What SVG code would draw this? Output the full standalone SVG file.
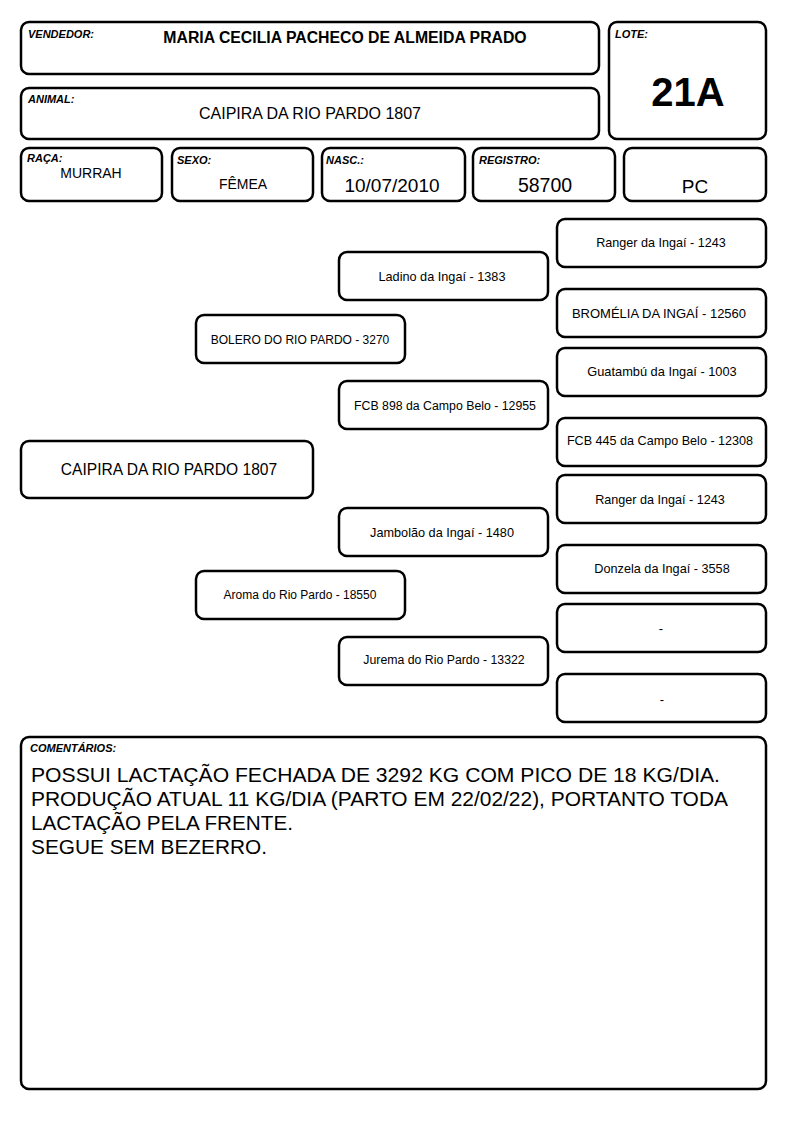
<svg xmlns="http://www.w3.org/2000/svg" width="794" height="1123" viewBox="0 0 794 1123">
<style>
.b{fill:#fff;stroke:#000;stroke-width:2.5}
.lb{font-family:"Liberation Sans",Arial,sans-serif;font-size:11px;font-weight:bold;font-style:italic;fill:#000}
.t{font-family:"Liberation Sans",Arial,sans-serif;fill:#000;text-anchor:middle}
</style>
<rect width="794" height="1123" fill="#fff"/>
<g id="vendedor"><rect class="b" x="21" y="22" width="578" height="52" rx="8"/><text class="lb" x="28" y="38">VENDEDOR:</text><text class="t" x="345" y="43" font-size="15.8" font-weight="bold">MARIA CECILIA PACHECO DE ALMEIDA PRADO</text></g>
<g id="lote"><rect class="b" x="609" y="22" width="157" height="117" rx="8"/><text class="lb" x="615" y="38">LOTE:</text><text class="t" x="688" y="106" font-size="40" font-weight="bold">21A</text></g>
<g id="animal"><rect class="b" x="21" y="88" width="578" height="51" rx="8"/><text class="lb" x="28" y="103">ANIMAL:</text><text class="t" x="310" y="119" font-size="16">CAIPIRA DA RIO PARDO 1807</text></g>
<g id="raca"><rect class="b" x="21" y="148" width="141" height="53" rx="8"/><text class="lb" x="27" y="162">RAÇA:</text><text class="t" x="91" y="178" font-size="14">MURRAH</text></g>
<g id="sexo"><rect class="b" x="172" y="148" width="141" height="53" rx="8"/><text class="lb" x="177" y="164">SEXO:</text><text class="t" x="243" y="189" font-size="14">FÊMEA</text></g>
<g id="nasc"><rect class="b" x="322" y="148" width="143" height="53" rx="8"/><text class="lb" x="326" y="164">NASC.:</text><text class="t" x="392" y="192" font-size="19">10/07/2010</text></g>
<g id="registro"><rect class="b" x="473" y="148" width="142" height="53" rx="8"/><text class="lb" x="479" y="164">REGISTRO:</text><text class="t" x="545" y="192" font-size="19.5">58700</text></g>
<g id="pc"><rect class="b" x="624" y="148" width="142" height="53" rx="8"/><text class="t" x="695" y="193" font-size="19">PC</text></g>
<g id="connectors"></g>
<g id="ranger1"><rect class="b" x="557" y="219" width="209" height="48" rx="8"/><text class="t" x="661" y="247" font-size="12.6">Ranger da Ingaí - 1243</text></g>
<g id="ladino"><rect class="b" x="339" y="252" width="209" height="48" rx="8"/><text class="t" x="442" y="281" font-size="12.7">Ladino da Ingaí - 1383</text></g>
<g id="bromelia"><rect class="b" x="557" y="289" width="209" height="48" rx="8"/><text class="t" x="659" y="318" font-size="13">BROMÉLIA DA INGAÍ - 12560</text></g>
<g id="bolero"><rect class="b" x="196" y="315" width="209" height="48" rx="8"/><text class="t" x="300" y="344" font-size="12">BOLERO DO RIO PARDO - 3270</text></g>
<g id="guatambu"><rect class="b" x="557" y="348" width="209" height="48" rx="8"/><text class="t" x="662" y="376" font-size="12.8">Guatambú da Ingaí - 1003</text></g>
<g id="fcb898"><rect class="b" x="339" y="381" width="209" height="48" rx="8"/><text class="t" x="445" y="410" font-size="12.3">FCB 898 da Campo Belo - 12955</text></g>
<g id="fcb445"><rect class="b" x="557" y="418" width="209" height="48" rx="8"/><text class="t" x="660" y="445" font-size="12.6">FCB 445 da Campo Belo - 12308</text></g>
<g id="caipira"><rect class="b" x="21" y="441" width="292" height="57" rx="8"/><text class="t" x="169" y="475" font-size="15.6">CAIPIRA DA RIO PARDO 1807</text></g>
<g id="ranger2"><rect class="b" x="557" y="475" width="209" height="48" rx="8"/><text class="t" x="660" y="504" font-size="12.6">Ranger da Ingaí - 1243</text></g>
<g id="jambolao"><rect class="b" x="339" y="508" width="209" height="48" rx="8"/><text class="t" x="442" y="537" font-size="12.7">Jambolão da Ingaí - 1480</text></g>
<g id="donzela"><rect class="b" x="557" y="545" width="209" height="48" rx="8"/><text class="t" x="662" y="573" font-size="12.7">Donzela da Ingaí - 3558</text></g>
<g id="aroma"><rect class="b" x="196" y="571" width="209" height="48" rx="8"/><text class="t" x="300" y="599" font-size="12">Aroma do Rio Pardo - 18550</text></g>
<g id="vazio1"><rect class="b" x="557" y="604" width="209" height="48" rx="8"/><text class="t" x="661" y="633" font-size="13">-</text></g>
<g id="jurema"><rect class="b" x="339" y="637" width="209" height="48" rx="8"/><text class="t" x="444" y="664" font-size="12.3">Jurema do Rio Pardo - 13322</text></g>
<g id="vazio2"><rect class="b" x="557" y="674" width="209" height="48" rx="8"/><text class="t" x="662" y="704" font-size="13">-</text></g>
<g id="comentarios"><rect class="b" x="21" y="737" width="745" height="352" rx="8"/><text class="lb" x="30" y="752" font-size="10">COMENTÁRIOS:</text>
<g font-family="'Liberation Sans',Arial,sans-serif" font-size="21" fill="#000">
<text x="31" y="782" textLength="689" lengthAdjust="spacingAndGlyphs">POSSUI LACTAÇÃO FECHADA DE 3292 KG COM PICO DE 18 KG/DIA.</text>
<text x="31" y="806" textLength="697" lengthAdjust="spacingAndGlyphs">PRODUÇÃO ATUAL 11 KG/DIA (PARTO EM 22/02/22), PORTANTO TODA</text>
<text x="31" y="830" textLength="262" lengthAdjust="spacingAndGlyphs">LACTAÇÃO PELA FRENTE.</text>
<text x="31" y="854" textLength="236" lengthAdjust="spacingAndGlyphs">SEGUE SEM BEZERRO.</text>
</g></g>
</svg>
